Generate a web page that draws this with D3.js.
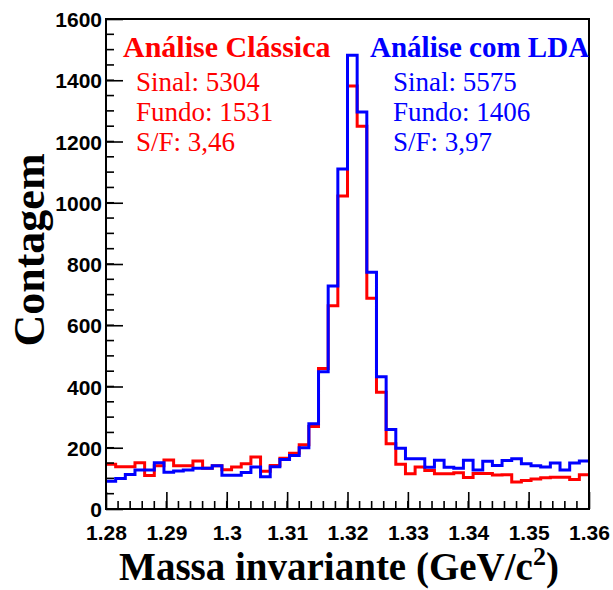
<!DOCTYPE html>
<html>
<head>
<meta charset="utf-8">
<script src="https://cdn.jsdelivr.net/npm/d3@7"></script>
<style>
  html, body { margin: 0; padding: 0; background: #fff; }
  svg { display: block; }
</style>
</head>
<body>
<svg id="chart" width="613" height="590"></svg>
<script>
// Invariant-mass histograms: classic cut analysis vs. LDA selection
const xMin = 1.28, xMax = 1.36, nBins = 50;
const binWidth = (xMax - xMin) / nBins;

const classicCounts = [146, 138, 138, 151, 109, 141, 160, 141, 141, 157,
                       133, 141, 128, 137, 148, 170, 123, 142, 166, 182,
                       210, 269, 459, 664, 1022, 1381, 1250, 688, 381, 213,
                       146, 115, 137, 126, 115, 115, 118, 103, 116, 116,
                       111, 112, 88, 93, 98, 102, 104, 104, 96, 112];

const ldaCounts = [91, 100, 113, 127, 127, 151, 120, 124, 127, 133,
                   133, 141, 110, 110, 119, 137, 105, 138, 162, 175,
                   200, 278, 448, 728, 1110, 1482, 1296, 773, 432, 260,
                   198, 164, 164, 136, 159, 136, 133, 159, 127, 156,
                   142, 158, 164, 148, 141, 137, 150, 127, 150, 157];

const xTickValues = [1.28, 1.29, 1.3, 1.31, 1.32, 1.33, 1.34, 1.35, 1.36];
const yTickValues = [0, 200, 400, 600, 800, 1000, 1200, 1400, 1600];

const classicLabels = ["Análise Clássica", "Sinal: 5304", "Fundo: 1531", "S/F: 3,46"];
const ldaLabels = ["Análise com LDA", "Sinal: 5575", "Fundo: 1406", "S/F: 3,97"];

const margin = { left: 106, right: 24, top: 19, bottom: 81 };
const W = 613, H = 590;

const svg = d3.select("#chart");

const x = d3.scaleLinear().domain([xMin, xMax]).range([margin.left, W - margin.right]);
const y = d3.scaleLinear().domain([0, 1600]).range([H - margin.bottom, margin.top]);

const sansBold = "'Liberation Sans', Arial, Helvetica, sans-serif";
const serif = "'Liberation Serif', 'Times New Roman', Times, serif";

// Histogram outline as a step path over bin edges
function stepPath(counts) {
  const pts = [];
  counts.forEach((c, i) => {
    const lo = xMin + i * binWidth;
    const hi = xMin + (i + 1) * binWidth;
    pts.push([x(lo), y(c)], [x(hi), y(c)]);
  });
  return d3.line()(pts);
}

const plot = svg.append("g");

plot.append("path")
  .attr("d", stepPath(classicCounts))
  .attr("fill", "none")
  .attr("stroke", "#ff0000")
  .attr("stroke-width", 3)
  .attr("stroke-linejoin", "miter");

plot.append("path")
  .attr("d", stepPath(ldaCounts))
  .attr("fill", "none")
  .attr("stroke", "#0000ff")
  .attr("stroke-width", 3)
  .attr("stroke-linejoin", "miter");

// Minor ticks
const xMinor = d3.range(0, 41).map(i => xMin + i * 0.002);
const yMinor = d3.range(0, 33).map(i => i * 50);

const ticks = svg.append("g").attr("stroke", "#000").attr("stroke-width", 1.6);
ticks.selectAll(".xminor").data(xMinor).join("line")
  .attr("x1", d => x(d)).attr("x2", d => x(d))
  .attr("y1", y(0)).attr("y2", y(0) - 8);
ticks.selectAll(".yminor").data(yMinor).join("line")
  .attr("y1", d => y(d)).attr("y2", d => y(d))
  .attr("x1", x(xMin)).attr("x2", x(xMin) + 8);

// Major axes with long inward ticks
const xAxis = d3.axisBottom(x).tickValues(xTickValues)
  .tickFormat(d => String(+d.toFixed(2)))
  .tickSizeInner(-17).tickSizeOuter(0).tickPadding(27);
const yAxis = d3.axisLeft(y).tickValues(yTickValues)
  .tickFormat(d3.format("d"))
  .tickSizeInner(-17).tickSizeOuter(0).tickPadding(24);

const gx = svg.append("g").attr("transform", `translate(0,${y(0)})`).call(xAxis);
const gy = svg.append("g").attr("transform", `translate(${x(xMin)},0)`).call(yAxis);

[gx, gy].forEach(g => {
  g.select(".domain").remove();
  g.selectAll(".tick line").attr("stroke", "#000").attr("stroke-width", 1.6);
  g.selectAll(".tick text")
    .attr("fill", "#000")
    .style("font-family", sansBold)
    .style("font-weight", "bold")
    .style("font-size", "21px");
});
gx.selectAll(".tick text").attr("dy", "0.2em");
gy.selectAll(".tick text").attr("dx", "20px").attr("dy", "0.36em");

// Frame
svg.append("rect")
  .attr("x", x(xMin)).attr("y", y(1600))
  .attr("width", x(xMax) - x(xMin)).attr("height", y(0) - y(1600))
  .attr("fill", "none").attr("stroke", "#000").attr("stroke-width", 2);

// Axis titles
svg.append("text")
  .attr("x", 339).attr("y", 580)
  .attr("text-anchor", "middle")
  .style("font-family", serif).style("font-weight", "bold").style("font-size", "39px")
  .call(t => {
    t.append("tspan").text("Massa invariante (GeV/c");
    t.append("tspan").attr("dy", -15).style("font-size", "26px").text("2");
    t.append("tspan").attr("dy", 15).text(")");
  });

svg.append("text")
  .attr("transform", "translate(44,250) rotate(-90)")
  .attr("text-anchor", "middle")
  .style("font-family", serif).style("font-weight", "bold").style("font-size", "44px")
  .text("Contagem");

// Result boxes
function legendBlock(lines, color, xTitle, xBody, titleSize) {
  const g = svg.append("g").attr("fill", color).style("font-family", serif);
  g.append("text")
    .attr("x", xTitle).attr("y", 57)
    .style("font-weight", "bold").style("font-size", titleSize + "px")
    .text(lines[0]);
  lines.slice(1).forEach((s, i) => {
    g.append("text")
      .attr("x", xBody).attr("y", 91 + i * 30)
      .style("font-size", "27px")
      .text(s);
  });
}
legendBlock(classicLabels, "#ff0000", 123, 136, 30);
legendBlock(ldaLabels, "#0000ff", 370, 393, 29);
</script>
</body>
</html>
